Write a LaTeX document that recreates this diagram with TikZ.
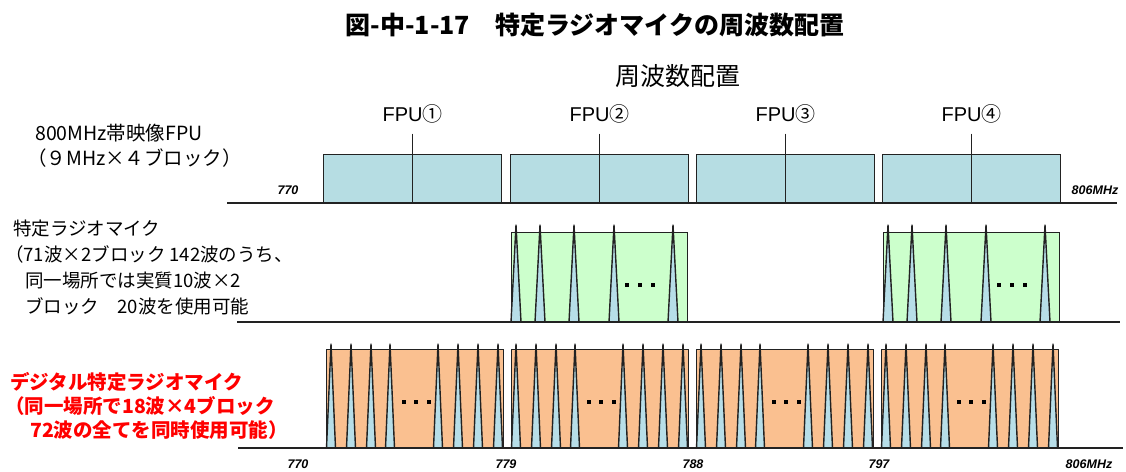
\documentclass[tikz,border=0pt]{standalone}
\usepackage{fontspec}
\setmainfont{Noto Sans CJK JP}
\newfontfamily\numfont{Liberation Sans}
\definecolor{fpublue}{HTML}{B6DDE3}
\definecolor{micgreen}{HTML}{CCFFCC}
\definecolor{digorange}{HTML}{FAC090}
\definecolor{tripblue}{HTML}{B7DEE8}
\definecolor{linegray}{HTML}{222222}
\tikzset{
  axisline/.style={draw=linegray, line width=1.4pt},
  fpubox/.style={draw=linegray, fill=fpublue, line width=1.3pt, inner sep=0, anchor=south west},
  greenbox/.style={draw=linegray, fill=micgreen, line width=1.3pt, inner sep=0, anchor=south west},
  orangebox/.style={draw=linegray, fill=digorange, line width=1.4pt, inner sep=0, anchor=south west},
  chantri/.style={draw=linegray, fill=tripblue, line width=1.4pt, line join=round},
  centerline/.style={draw=linegray, line width=1.2pt},
  dotsq/.style={fill=black, draw=none},
  ticklbl/.style={font=\numfont\bfseries\itshape\fontsize{12.5}{12.5}\selectfont, inner sep=0},
  fpulbl/.style={font=\fontsize{20}{20}\selectfont, inner sep=0, anchor=base},
  blacktxt/.style={font=\fontsize{18.5}{18.5}\selectfont, inner sep=0, anchor=base west},
  redtxt/.style={font=\bfseries\fontsize{19.5}{19.5}\selectfont, text=red, inner sep=0, anchor=base west},
}
\begin{document}
\begin{tikzpicture}[x=1pt,y=-1pt]
\useasboundingbox (0,0) rectangle (1126,471);
% titles
\node[font=\bfseries\fontsize{25}{25}\selectfont, inner sep=0] (title) at (595,25) {図-中-1-17　特定ラジオマイクの周波数配置};
\node[font=\fontsize{25}{25}\selectfont, inner sep=0] (subtitle) at (678,76) {周波数配置};

% ---------- Row 1 : FPU ----------
\coordinate (r1a) at (227,203);
\coordinate (r1b) at (1117,203);
\foreach \i/\x in {1/323,2/510,3/696,4/882}{
  \node[fpubox, minimum width=178pt, minimum height=48pt] (fpu\i) at (\x,203) {};
}
\draw[axisline] (r1a) -- (r1b);
\foreach \i/\lab in {1/①,2/②,3/③,4/④}{
  \coordinate (ct\i) at ([yshift=20pt]fpu\i.north);
  \draw[centerline] (ct\i) -- (fpu\i.south);
  \node[fpulbl] (fl\i) at ([yshift=12pt]ct\i) {{\numfont FPU}\lab};
}
\node[ticklbl] (t770a) at (288,190) {770};
\node[ticklbl] (t806a) at (1095,190) {806MHz};
\node[blacktxt, font=\fontsize{19.5}{19.5}\selectfont] (lab1a) at (35,140) {800MHz帯映像FPU};
\node[blacktxt, font=\fontsize{19.5}{19.5}\selectfont] (lab1b) at (27,165) {（９MHz×４ブロック）};

% ---------- Row 2 : analog mics ----------
\coordinate (r2a) at (237,322);
\coordinate (r2b) at (1120,322);
\foreach \i/\x in {1/511,2/883}{
  \node[greenbox, minimum width=176pt, minimum height=89pt] (g\i) at (\x,322) {};
  \foreach \r in {5,29,63,103,162}{
    \filldraw[chantri] (\x+\r-5,322) -- (\x+\r,225) -- (\x+\r+5,322) -- cycle;
  }
  \foreach \r in {116,129,142}{
    \fill[dotsq] (\x+\r-2,283) rectangle (\x+\r+2,287);
  }
}
\draw[axisline] (r2a) -- (r2b);
\node[blacktxt] (lab2a) at (13,235) {特定ラジオマイク};
\node[blacktxt] (lab2b) at (5,261) {（71波×2ブロック 142波のうち、};
\node[blacktxt] (lab2c) at (25,287) {同一場所では実質10波×2};
\node[blacktxt] (lab2d) at (25,313) {ブロック　20波を使用可能};

% ---------- Row 3 : digital mics ----------
\coordinate (r3a) at (238,448);
\coordinate (r3b) at (1123,448);
\foreach \i/\x in {1/326,2/511,3/696,4/881}{
  \node[orangebox, minimum width=177pt, minimum height=98pt] (o\i) at (\x,448) {};
  \foreach \r in {5,25,45,64,112,132,152,172}{
    \filldraw[chantri] (\x+\r-4.5,448) -- (\x+\r,344) -- (\x+\r+4.5,448) -- cycle;
  }
  \foreach \r in {78,90,103}{
    \fill[dotsq] (\x+\r-2,400) rectangle (\x+\r+2,404);
  }
}
\draw[axisline] (r3a) -- (r3b);
\node[ticklbl] (t770b) at (298,464) {770};
\node[ticklbl] (t779) at (506,464) {779};
\node[ticklbl] (t788) at (693,464) {788};
\node[ticklbl] (t797) at (879,464) {797};
\node[ticklbl] (t806b) at (1089,464) {806MHz};
\node[redtxt] (lab3a) at (10,389) {デジタル特定ラジオマイク};
\node[redtxt] (lab3b) at (5,413) {（同一場所で18波×4ブロック};
\node[redtxt] (lab3c) at (30,437) {72波の全てを同時使用可能）};
\end{tikzpicture}
\end{document}
